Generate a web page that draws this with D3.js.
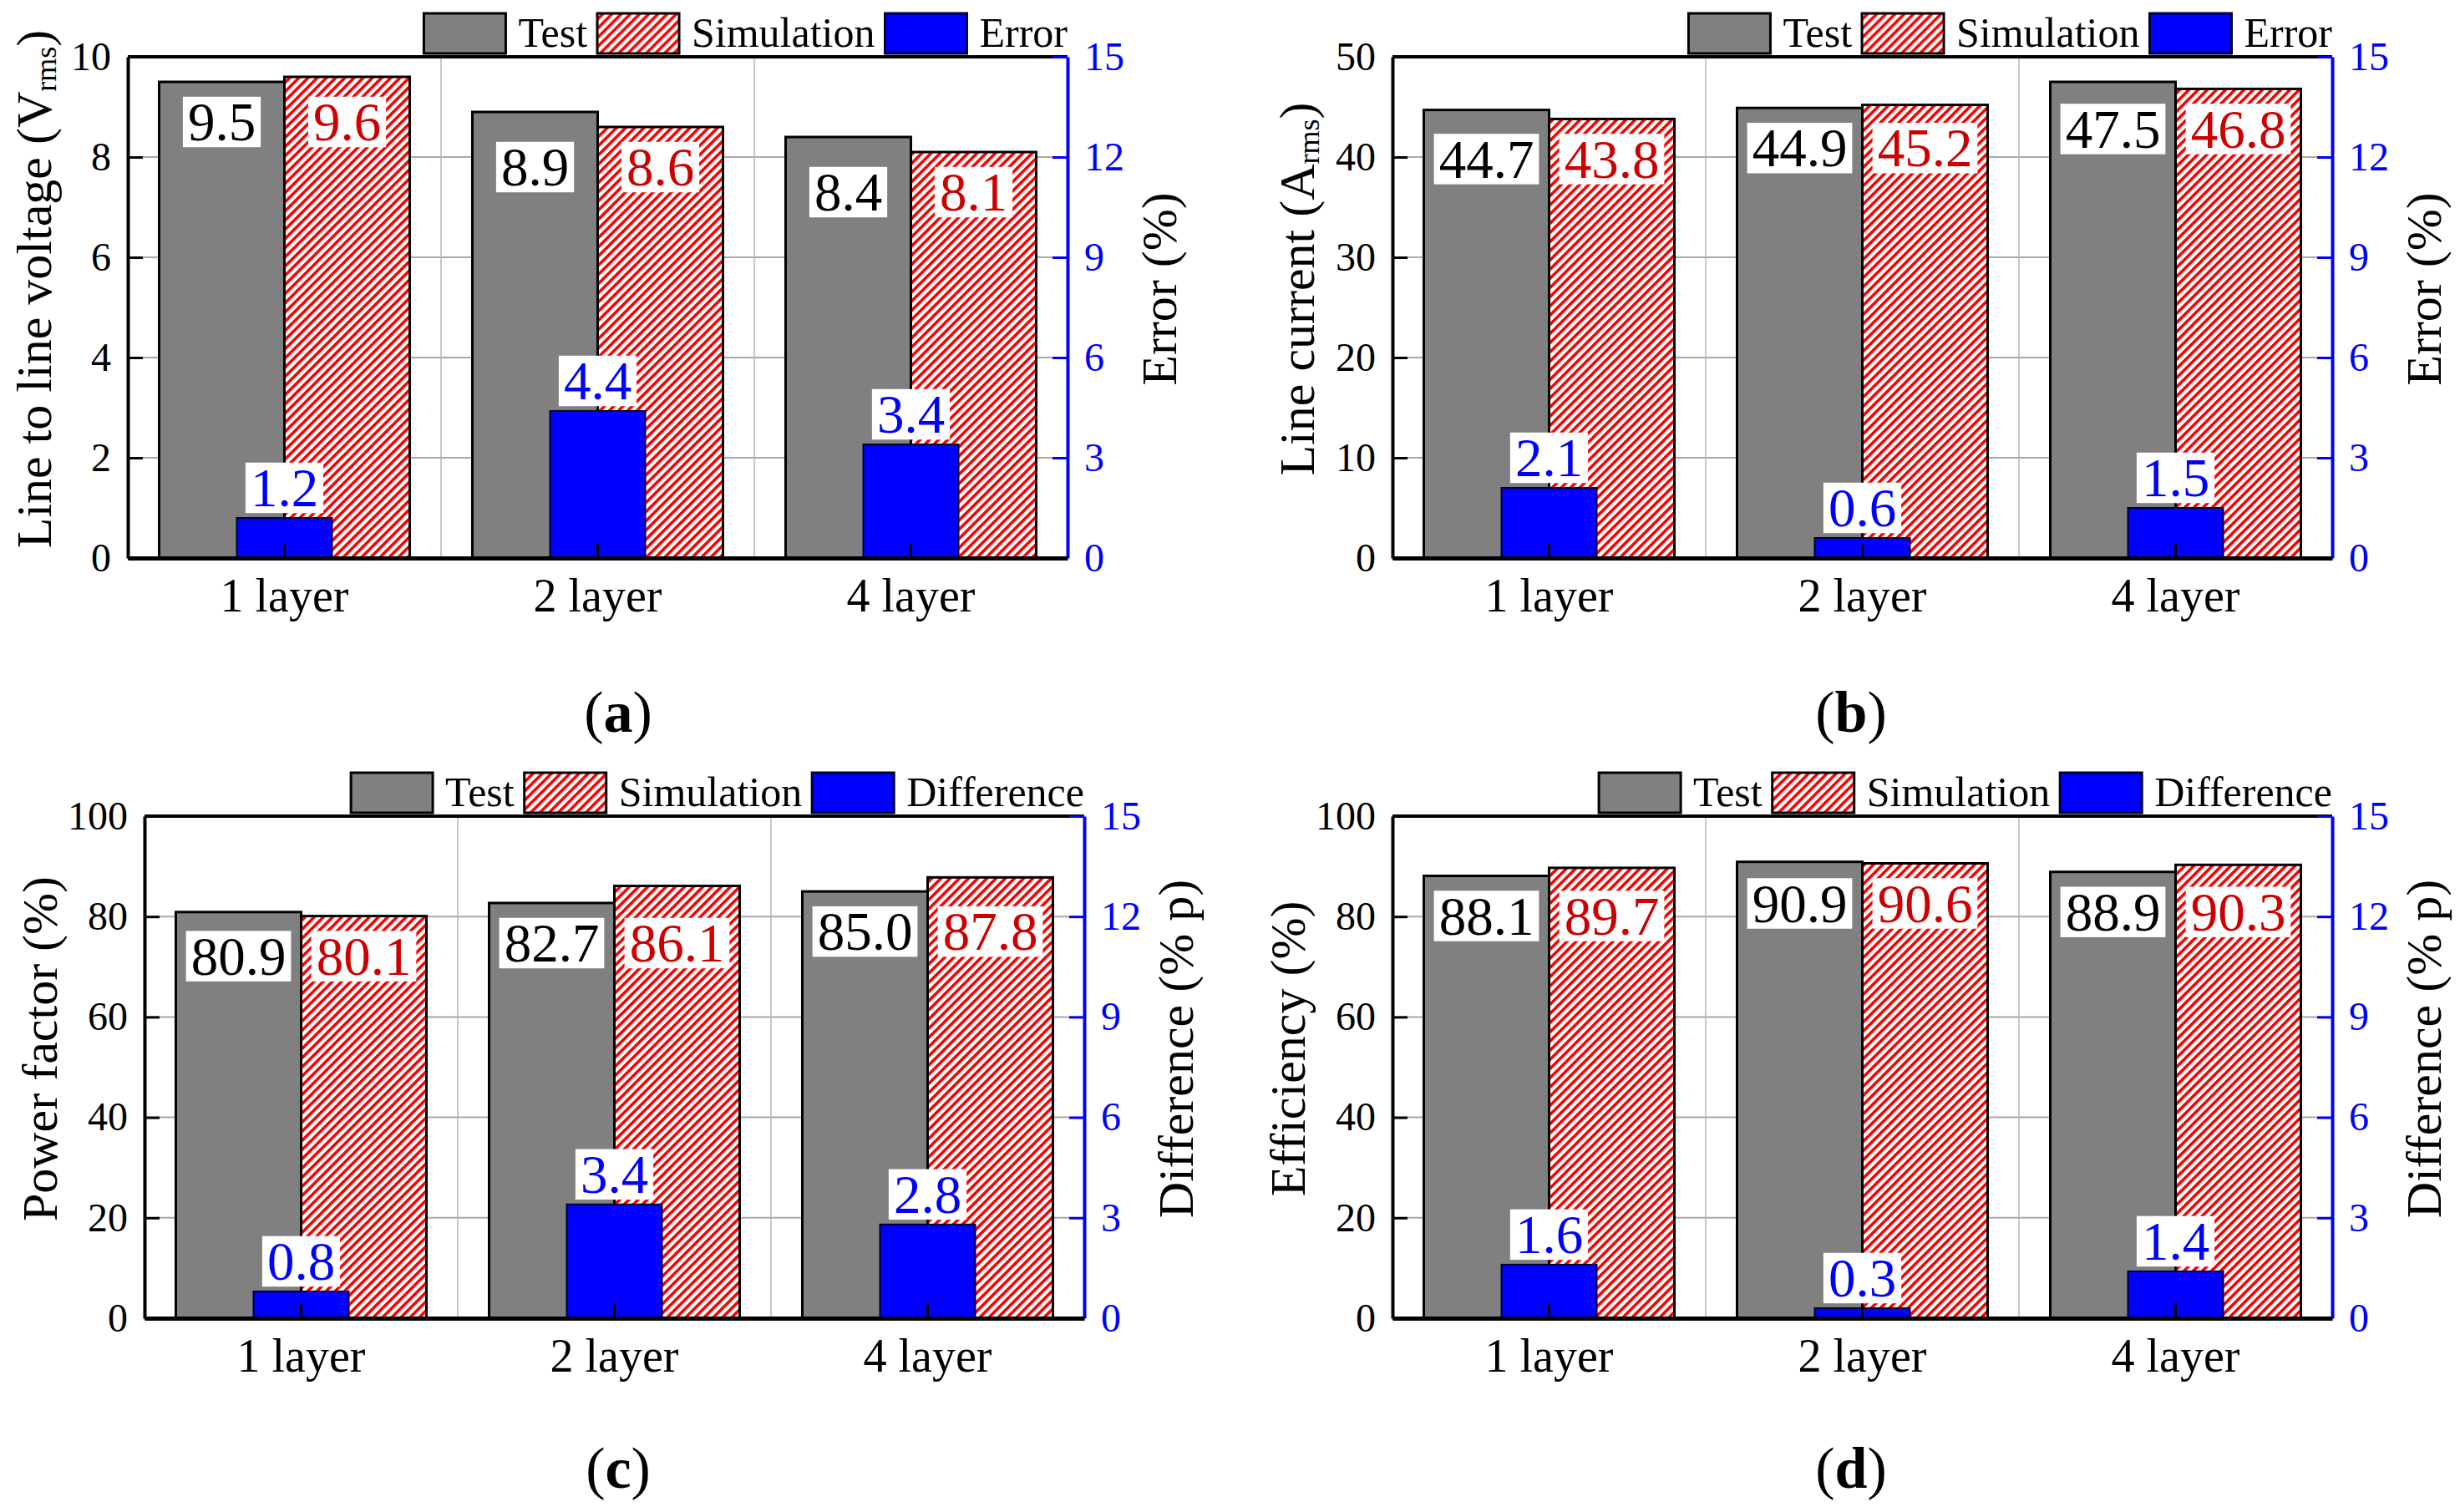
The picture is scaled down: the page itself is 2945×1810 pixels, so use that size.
<!DOCTYPE html>
<html>
<head>
<meta charset="utf-8">
<script src="https://cdn.jsdelivr.net/npm/d3@7"></script>
<style>
  body { margin: 0; background: #fff; }
  svg { display: block; font-family: "Liberation Serif", "Times New Roman", serif; }
</style>
</head>
<body>
<div id="chart"></div>
<script>
// values
const categories = ["1 layer", "2 layer", "4 layer"];

const voltageTest = [9.5, 8.9, 8.4];
const voltageSim = [9.6, 8.6, 8.1];
const voltageErr = [1.2, 4.4, 3.4];

const currentTest = [44.7, 44.9, 47.5];
const currentSim = [43.8, 45.2, 46.8];
const currentErr = [2.1, 0.6, 1.5];

const pfTest = [80.9, 82.7, 85.0];
const pfSim = [80.1, 86.1, 87.8];
const pfDiff = [0.8, 3.4, 2.8];

const effTest = [88.1, 90.9, 88.9];
const effSim = [89.7, 90.6, 90.3];
const effDiff = [1.6, 0.3, 1.4];

const voltageTicks = [0, 2, 4, 6, 8, 10];
const currentTicks = [0, 10, 20, 30, 40, 50];
const percentTicks = [0, 20, 40, 60, 80, 100];
const rightTicks = [0, 3, 6, 9, 12, 15];

const W = 2945, H = 1810;

var svg = d3
  .select("#chart")
  .append("svg")
  .attr("width", W)
  .attr("height", H);

// red diagonal hatch for the simulation bars
var defs = svg.append("defs");
var pat = defs
  .append("pattern")
  .attr("id", "hatch")
  .attr("patternUnits", "userSpaceOnUse")
  .attr("width", 11)
  .attr("height", 11);
pat.append("rect").attr("width", 11).attr("height", 11).attr("fill", "#fff");
pat
  .append("path")
  .attr("d", "M-2,2 L2,-2 M0,11 L11,0 M9,13 L13,9")
  .attr("stroke", "#ff0000")
  .attr("stroke-width", 3.6);

const panels = [
  {
    rect: [153, 1278, 68, 668], test: voltageTest, sim: voltageSim, err: voltageErr,
    ticks: voltageTicks, leftTitle: ["Line to line voltage (V", "rms", ")"], leftOff: 112,
    rightTitle: "Error (%)", third: "Error", letter: "a", letterPos: [740, 876]
  },
  {
    rect: [1667, 2792, 68, 668], test: currentTest, sim: currentSim, err: currentErr,
    ticks: currentTicks, leftTitle: ["Line current (A", "rms", ")"], leftOff: 114,
    rightTitle: "Error (%)", third: "Error", letter: "b", letterPos: [2216, 876]
  },
  {
    rect: [173, 1298, 977, 1578], test: pfTest, sim: pfSim, err: pfDiff,
    ticks: percentTicks, leftTitle: ["Power factor (%)"], leftOff: 125,
    rightTitle: "Difference (% p)", third: "Difference", letter: "c", letterPos: [740, 1781]
  },
  {
    rect: [1667, 2792, 977, 1578], test: effTest, sim: effSim, err: effDiff,
    ticks: percentTicks, leftTitle: ["Efficiency (%)"], leftOff: 125,
    rightTitle: "Difference (% p)", third: "Difference", letter: "d", letterPos: [2216, 1781]
  }
];

const labelFont = 65;

// white boxed value label centred on (cx, cy)
function boxedLabel(g, cx, cy, txt, color) {
  var lg = g.append("g");
  var box = lg.append("rect").attr("fill", "#fff");
  var t = lg
    .append("text")
    .attr("x", cx)
    .attr("y", cy + 0.34 * labelFont)
    .attr("text-anchor", "middle")
    .attr("font-size", labelFont)
    .attr("fill", color)
    .text(txt);
  var w = t.node().getComputedTextLength() + 12;
  var h = 0.93 * labelFont;
  box
    .attr("x", cx - w / 2)
    .attr("y", cy - h / 2)
    .attr("width", w)
    .attr("height", h);
}

function styleAxis(ga, color, width, size) {
  ga.attr("font-family", null).attr("font-size", null);
  ga.select(".domain").attr("stroke", color).attr("stroke-width", width);
  ga.selectAll(".tick line").attr("stroke", color).attr("stroke-width", 3);
  ga.selectAll(".tick text").attr("font-size", size).attr("fill", color);
}

function drawPanel(p) {
  var x0 = p.rect[0], x1 = p.rect[1], y0 = p.rect[2], y1 = p.rect[3];
  var g = svg.append("g");

  var x = d3.scaleBand().domain(categories).range([x0, x1]).padding(0);
  var y = d3.scaleLinear().domain([0, d3.max(p.ticks)]).range([y1, y0]);
  var yR = d3.scaleLinear().domain([0, 15]).range([y1, y0]);
  var bw = x.bandwidth();

  // grid lines
  g.selectAll(".hgrid")
    .data(p.ticks.slice(1, -1))
    .enter()
    .append("line")
    .attr("x1", x0).attr("x2", x1)
    .attr("y1", d => y(d)).attr("y2", d => y(d))
    .attr("stroke", "#a8a8a8")
    .attr("stroke-width", 2);
  g.selectAll(".vgrid")
    .data(categories.slice(1))
    .enter()
    .append("line")
    .attr("x1", d => x(d)).attr("x2", d => x(d))
    .attr("y1", y0).attr("y2", y1)
    .attr("stroke", "#b4b4b4")
    .attr("stroke-width", 1.5);

  // test bars
  g.selectAll(".test")
    .data(p.test)
    .enter()
    .append("rect")
    .attr("x", (d, i) => x(categories[i]) + bw / 2 - 0.4 * bw)
    .attr("y", d => y(d))
    .attr("width", 0.4 * bw)
    .attr("height", d => y1 - y(d))
    .attr("fill", "#808080")
    .attr("stroke", "#000")
    .attr("stroke-width", 3);

  // simulation bars
  g.selectAll(".sim")
    .data(p.sim)
    .enter()
    .append("rect")
    .attr("x", (d, i) => x(categories[i]) + bw / 2)
    .attr("y", d => y(d))
    .attr("width", 0.4 * bw)
    .attr("height", d => y1 - y(d))
    .attr("fill", "url(#hatch)")
    .attr("stroke", "#000")
    .attr("stroke-width", 3);

  // error / difference bars on the right axis
  g.selectAll(".err")
    .data(p.err)
    .enter()
    .append("rect")
    .attr("x", (d, i) => x(categories[i]) + bw / 2 - 0.152 * bw)
    .attr("y", d => yR(d))
    .attr("width", 0.304 * bw)
    .attr("height", d => y1 - yR(d))
    .attr("fill", "#0000ff")
    .attr("stroke", "#000030")
    .attr("stroke-width", 2);

  // value labels
  categories.forEach(function (c, i) {
    var cx = x(c) + bw / 2;
    var ly = y(Math.min(p.test[i], p.sim[i])) + 48;
    boxedLabel(g, cx - 0.2 * bw, ly, p.test[i].toFixed(1), "#000");
    boxedLabel(g, cx + 0.2 * bw, ly, p.sim[i].toFixed(1), "#cc0000");
    boxedLabel(g, cx, yR(p.err[i]) - 36, p.err[i].toFixed(1), "#0000ff");
  });

  // frame top
  g.append("line")
    .attr("x1", x0).attr("x2", x1)
    .attr("y1", y0).attr("y2", y0)
    .attr("stroke", "#000")
    .attr("stroke-width", 4);

  // left axis
  var gl = g.append("g")
    .attr("transform", "translate(" + x0 + ",0)")
    .call(d3.axisLeft(y).tickValues(p.ticks).tickSize(-18).tickSizeOuter(0).tickPadding(20));
  styleAxis(gl, "#000", 4, 48);

  // right axis
  var gr = g.append("g")
    .attr("transform", "translate(" + x1 + ",0)")
    .call(d3.axisRight(yR).tickValues(rightTicks).tickSize(-18).tickSizeOuter(0).tickPadding(20));
  styleAxis(gr, "#0000ff", 4, 48);

  // bottom axis
  var gb = g.append("g")
    .attr("transform", "translate(0," + y1 + ")")
    .call(d3.axisBottom(x).tickSize(-17).tickSizeOuter(0).tickPadding(24));
  styleAxis(gb, "#000", 5, 56);

  // axis titles
  var cy = (y0 + y1) / 2 - 22;
  var lt = g.append("text")
    .attr("transform", "translate(" + (x0 - p.leftOff) + "," + cy + ") rotate(-90)")
    .attr("text-anchor", "middle")
    .attr("dominant-baseline", "central")
    .attr("font-size", 60)
    .attr("fill", "#000");
  lt.append("tspan").text(p.leftTitle[0]);
  if (p.leftTitle.length > 1) {
    lt.append("tspan").attr("font-size", 36).attr("dy", 14).text(p.leftTitle[1]);
    lt.append("tspan").attr("dy", -14).text(p.leftTitle[2]);
  }
  g.append("text")
    .attr("transform", "translate(" + (x1 + 110) + "," + cy + ") rotate(-90)")
    .attr("text-anchor", "middle")
    .attr("dominant-baseline", "central")
    .attr("font-size", 60)
    .attr("fill", "#000")
    .text(p.rightTitle);

  // legend above the frame, right aligned
  var leg = g.append("g");
  var items = [
    { label: "Test", fill: "#808080", stroke: "#000" },
    { label: "Simulation", fill: "url(#hatch)", stroke: "#000" },
    { label: p.third, fill: "#0000ff", stroke: "#000030" }
  ];
  var cursor = 0;
  items.forEach(function (it) {
    leg.append("rect")
      .attr("x", cursor)
      .attr("y", y0 - 52)
      .attr("width", 98)
      .attr("height", 48)
      .attr("fill", it.fill)
      .attr("stroke", it.stroke)
      .attr("stroke-width", 3);
    var t = leg.append("text")
      .attr("x", cursor + 98 + 15)
      .attr("y", y0 - 12)
      .attr("font-size", 50)
      .attr("fill", "#000")
      .text(it.label);
    cursor += 98 + 15 + t.node().getComputedTextLength() + 12;
  });
  leg.attr("transform", "translate(" + (x1 + 12 - cursor) + ",0)");

  // panel letter
  var pl = g.append("text")
    .attr("x", p.letterPos[0])
    .attr("y", p.letterPos[1])
    .attr("text-anchor", "middle")
    .attr("font-size", 70)
    .attr("fill", "#000");
  pl.append("tspan").text("(");
  pl.append("tspan").attr("font-weight", "bold").text(p.letter);
  pl.append("tspan").text(")");
}

panels.forEach(drawPanel);
</script>
</body>
</html>
